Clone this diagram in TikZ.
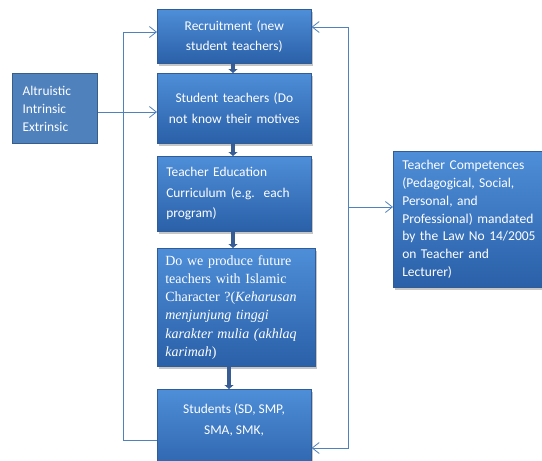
\documentclass[tikz,border=0pt]{standalone}
\usepackage{fontspec}
\setmainfont{Carlito}
\newfontfamily\timesfont{Liberation Serif}
\usetikzlibrary{arrows.meta,shadows}
\definecolor{boxtop}{RGB}{78,142,216}
\definecolor{boxbot}{RGB}{42,96,168}
\definecolor{boxedge}{RGB}{50,92,150}
\definecolor{linkblue}{RGB}{79,129,189}
\definecolor{flowblue}{RGB}{55,93,148}
\definecolor{altfill}{RGB}{79,129,189}
\definecolor{altedge}{RGB}{56,93,138}
\tikzset{
  box/.style={draw=boxedge, line width=0.6pt, top color=boxtop, bottom color=boxbot,
    drop shadow={opacity=0.45, shadow xshift=1.5pt, shadow yshift=-2.5pt},
    text=white, inner sep=0pt, anchor=north west},
  cal/.style={font=\fontsize{13.4}{20.5}\selectfont},
  flow/.style={draw=flowblue, line width=3.5pt, -{Triangle[width=9pt,length=4pt]}},
  link/.style={draw=linkblue, line width=0.8pt},
  tip/.style={-{Straight Barb[length=7pt,width=11pt]}},
}
\begin{document}
\begin{tikzpicture}[x=1pt,y=-1pt]
\useasboundingbox (0,0) rectangle (542,461);
% boxes
\node[box, cal, minimum width=154pt, minimum height=54pt, text width=140pt, align=center] (rec) at (157,9) {Recruitment (new\\student teachers)};
\node[box, cal, minimum width=154pt, minimum height=70pt, text width=140pt, align=center] (stu) at (157,73) {Student teachers (Do\\not know their motives};
\node[box, cal, minimum width=154pt, minimum height=75pt, text width=136pt, align=left] (cur) at (157,156) {Teacher Education\\Curriculum (e.g.\ \ each\\program)};
\node[box, minimum width=158pt, minimum height=118pt, text width=142pt, align=left, font=\timesfont\fontsize{14}{18.2}\selectfont] (q) at (157,248) {Do we produce future\\teachers with Islamic\\Character ?(\textit{Keharusan}\\\textit{menjunjung tinggi}\\\textit{karakter mulia (akhlaq}\\\textit{karimah})};
\node[box, minimum width=154pt, minimum height=90pt] (studs) at (157,389) {};
\node[cal, text=white, align=center, inner sep=0pt] (studstext) at (234,420) {Students (SD, SMP,\\SMA, SMK,};
\node[box, minimum width=155pt, minimum height=136pt, text width=137pt, align=left, font=\fontsize{13.5}{17.7}\selectfont] (comp) at (393,151) {Teacher Competences\\(Pedagogical, Social,\\Personal, and\\Professional) mandated\\by the Law No 14/2005\\on Teacher and\\Lecturer)};
\node[draw=altedge, line width=1.2pt, fill=altfill, text=white, inner sep=0pt, anchor=north west,
  minimum width=85pt, minimum height=70pt, text width=65pt, align=left, font=\fontsize{13.4}{18}\selectfont] (alt) at (12,73) {Altruistic\\Intrinsic\\Extrinsic};
% flow arrows
\draw[flow] (rec.south -| 233,0) -- (stu.north -| 233,0);
\draw[flow] (stu.south -| 233,0) -- (cur.north -| 233,0);
\draw[flow] (cur.south -| 233,0) -- (q.north -| 233,0);
\draw[flow] (q.south -| 229,0) -- (studs.north -| 229,0);
% links
\draw[link, tip] (alt.east |- 0,112) -- (stu.west |- 0,112);
\draw[link, tip] (studs.west |- 0,440) -- (123,440) -- (123,32) -- (rec.west |- 0,32);
\coordinate (rtop) at (348,27);
\coordinate (rbot) at (348,448);
\coordinate (rmid) at (348,207);
\draw[link, {Straight Barb[length=7pt,width=11pt]}-{Straight Barb[length=7pt,width=11pt]}] (rec.east |- rtop) -- (rtop) -- (rbot) -- (studs.east |- rbot);
\draw[link, tip] (rmid) -- (comp.west |- rmid);
\end{tikzpicture}
\end{document}
